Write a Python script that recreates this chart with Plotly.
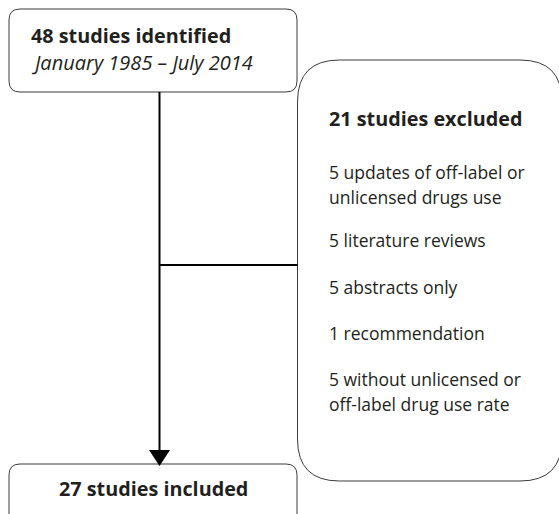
import plotly.graph_objects as go

# ---- data ----
identified_n = 48
identified_period = "January 1985 – July 2014"
excluded_n = 21
included_n = 27
exclusion_counts = [5, 5, 5, 1, 5]
exclusion_reasons = [
    ["updates of off-label or", "unlicensed drugs use"],
    ["literature reviews"],
    ["abstracts only"],
    ["recommendation"],
    ["without unlicensed or", "off-label drug use rate"],
]

W, H = 559, 514
FONT = "Open Sans"
TXT = "#231f20"


def rrect(x0, y0, x1, y1, r):
    return (f"M {x0+r},{y0} L {x1-r},{y0} Q {x1},{y0} {x1},{y0+r} "
            f"L {x1},{y1-r} Q {x1},{y1} {x1-r},{y1} L {x0+r},{y1} "
            f"Q {x0},{y1} {x0},{y1-r} L {x0},{y0+r} Q {x0},{y0} {x0+r},{y0} Z")


shapes = []
box_line = dict(color="#3a3a3a", width=1)
shapes.append(dict(type="path", path=rrect(9, 9, 297, 92, 11), line=box_line, layer="below"))
shapes.append(dict(type="path", path=rrect(9, 464, 297, 530, 11), line=box_line, layer="below"))
shapes.append(dict(type="path", path=rrect(297.5, 60, 562, 481, 42), line=box_line, layer="below"))
# connectors
shapes.append(dict(type="line", x0=159.5, x1=159.5, y0=92, y1=452, line=dict(color="black", width=2)))
shapes.append(dict(type="line", x0=159.5, x1=297.5, y0=265, y1=265, line=dict(color="black", width=2)))
shapes.append(dict(type="path", path="M 149,450 L 170,450 L 159.5,466 Z",
                   fillcolor="black", line=dict(color="black", width=0)))

BOLD = 19.8
REG = 17.5
ann = []
ann.append(dict(x=28.5, y=35, text=f"<b>{identified_n} studies identified</b>", xanchor="left", yanchor="middle",
                font=dict(size=BOLD, color=TXT, family=FONT)))
ann.append(dict(x=28.5, y=62, text=f"<i>{identified_period}</i>", xanchor="left", yanchor="middle",
                font=dict(size=20, color=TXT, family=FONT)))
ann.append(dict(x=326.5, y=118, text=f"<b>{excluded_n} studies excluded</b>", xanchor="left", yanchor="middle",
                font=dict(size=BOLD, color=TXT, family=FONT)))

para_y = [172, 240, 287, 333, 379]
for c, lines, y0 in zip(exclusion_counts, exclusion_reasons, para_y):
    for i, ln in enumerate(lines):
        t = f"{c} {ln}" if i == 0 else ln
        ann.append(dict(x=326.5, y=y0 + 25 * i, text=t, xanchor="left", yanchor="middle",
                        font=dict(size=REG, color=TXT, family=FONT)))

ann.append(dict(x=153, y=488, text=f"<b>{included_n} studies included</b>", xanchor="center", yanchor="middle",
                font=dict(size=BOLD, color=TXT, family=FONT)))
for a in ann:
    a.update(xref="x", yref="y", showarrow=False)

fig = go.Figure()
fig.update_layout(
    width=W, height=H, margin=dict(l=0, r=0, t=0, b=0),
    paper_bgcolor="white", plot_bgcolor="white",
    xaxis=dict(range=[0, W], visible=False, fixedrange=True),
    yaxis=dict(range=[H, 0], visible=False, fixedrange=True),
    shapes=shapes, annotations=ann, showlegend=False,
)
fig.write_html("out.html", config={"displayModeBar": False},
               post_script="document.body.style.margin='0';document.body.style.overflow='hidden';")
